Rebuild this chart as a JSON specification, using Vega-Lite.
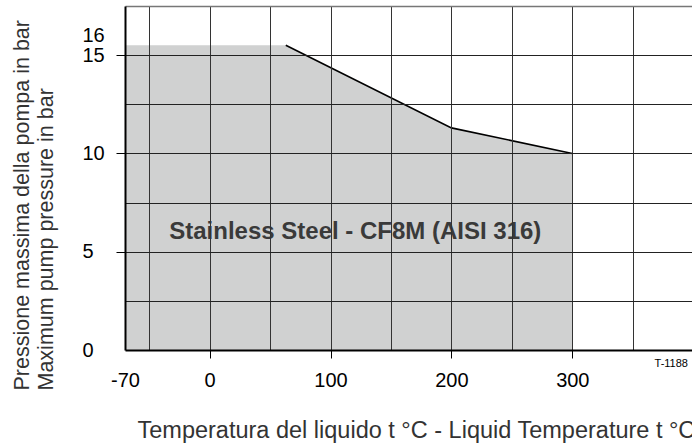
{
  "$schema": "https://vega.github.io/schema/vega-lite/v6.json",
  "autosize": {"type": "none"},
  "padding": {"left": 125, "top": 6, "right": 0, "bottom": 96},
  "width": 567,
  "height": 344,
  "background": "white",
  "config": {
    "view": {"stroke": null},
    "font": "Liberation Sans"
  },
  "datasets": {
    "curve": [
      {"t": -70, "p": 15.5},
      {"t": 63, "p": 15.5},
      {"t": 200, "p": 11.3},
      {"t": 300, "p": 10}
    ],
    "notes": [
      {"text": "Stainless Steel - CF8M (AISI 316)", "t": 120.5, "p": 5.63, "kind": "main"},
      {"text": "T-1188", "t": 368, "p": -0.69, "kind": "code"}
    ]
  },
  "layer": [
    {
      "data": {"name": "curve"},
      "mark": {"type": "area", "color": "#d0d1d1", "opacity": 1},
      "encoding": {
        "x": {
          "field": "t",
          "type": "quantitative",
          "scale": {"domain": [-70, 399], "nice": false, "zero": false},
          "axis": {
            "values": [-70, -50, 0, 50, 100, 150, 200, 250, 300, 350],
            "labelExpr": "datum.value === -70 ? '-70' : ((datum.value === 0 || datum.value === 100 || datum.value === 200 || datum.value === 300) ? datum.label : '')",
            "labelFlush": false,
            "labelOverlap": false,
            "labelBound": false,
            "labelFontSize": 20,
            "labelColor": "black",
            "labelPadding": 12,
            "tickSize": 8,
            "tickColor": "black",
            "tickWidth": 1,
            "tickOpacity": {"expr": "(datum.value === 0 || datum.value === 100 || datum.value === 200 || datum.value === 300) ? 1 : 0"},
            "grid": true,
            "gridColor": "#333",
            "gridWidth": 1,
            "gridOpacity": {"expr": "datum.value === -70 ? 0 : 1"},
            "domainColor": "black",
            "domainWidth": 2,
            "zindex": 1,
            "title": "Temperatura del liquido t °C - Liquid Temperature t °C",
            "titleFontSize": 23.5,
            "titleFontWeight": "normal",
            "titleColor": "#333",
            "titleAlign": "left",
            "titleAnchor": null,
            "titleBaseline": "alphabetic",
            "titleX": 12,
            "titleY": 87
          }
        },
        "y": {
          "field": "p",
          "type": "quantitative",
          "scale": {"domain": [0, 17.5], "nice": false, "zero": true},
          "axis": {
            "values": [0, 2.5, 5, 7.5, 10, 12.5, 15, 16, 17.5],
            "labelExpr": "(datum.value === 0 || datum.value === 5 || datum.value === 10 || datum.value === 15 || datum.value === 16) ? datum.label : ''",
            "labelOverlap": false,
            "labelBound": false,
            "labelFlush": false,
            "labelFontSize": 20,
            "labelColor": "black",
            "labelAlign": "left",
            "labelBaseline": "middle",
            "labelPadding": 34,
            "tickSize": 9,
            "tickColor": "black",
            "tickWidth": 1,
            "tickOpacity": {"expr": "(datum.value === 5 || datum.value === 10 || datum.value === 15) ? 1 : 0"},
            "grid": true,
            "gridColor": {"expr": "datum.value === 17.5 ? '#777' : '#222'"},
            "gridWidth": {"expr": "datum.value === 17.5 ? 1.5 : 1"},
            "gridOpacity": {"expr": "(datum.value === 0 || datum.value === 16) ? 0 : 1"},
            "domainColor": "black",
            "domainWidth": 2,
            "zindex": 1,
            "title": ["Pressione massima della pompa in bar", "Maximum pump pressure in bar"],
            "titleFontSize": 21.5,
            "titleFontWeight": "normal",
            "titleColor": "#333",
            "titleAngle": -90,
            "titleAlign": "left",
            "titleAnchor": null,
            "titleBaseline": "alphabetic",
            "titleLineHeight": 24,
            "titleX": -97,
            "titleY": 384
          }
        }
      }
    },
    {
      "data": {"name": "curve"},
      "transform": [{"filter": "datum.t >= 63"}],
      "mark": {"type": "line", "color": "black", "strokeWidth": 1.6},
      "encoding": {
        "x": {"field": "t", "type": "quantitative"},
        "y": {"field": "p", "type": "quantitative"}
      }
    },
    {
      "data": {"name": "notes"},
      "transform": [{"filter": "datum.kind === 'main'"}],
      "mark": {"type": "text", "fontSize": 24, "fontWeight": "bold", "color": "#3a3a3a", "align": "center", "baseline": "alphabetic"},
      "encoding": {
        "x": {"field": "t", "type": "quantitative"},
        "y": {"field": "p", "type": "quantitative"},
        "text": {"field": "text"}
      }
    },
    {
      "data": {"name": "notes"},
      "transform": [{"filter": "datum.kind === 'code'"}],
      "mark": {"type": "text", "fontSize": 11, "color": "black", "align": "left", "baseline": "middle"},
      "encoding": {
        "x": {"field": "t", "type": "quantitative"},
        "y": {"field": "p", "type": "quantitative"},
        "text": {"field": "text"}
      }
    }
  ]
}
